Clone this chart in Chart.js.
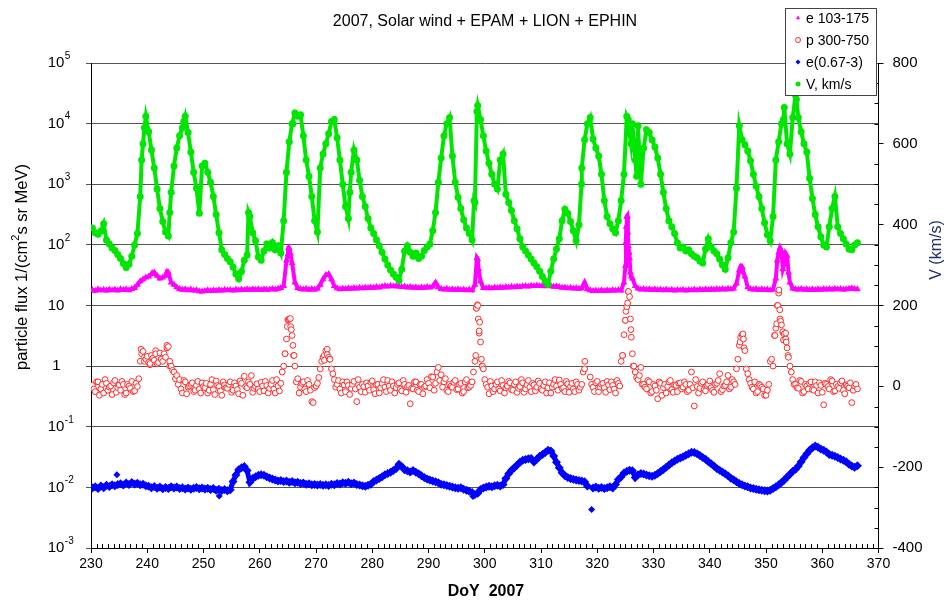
<!DOCTYPE html>
<html>
<head>
<meta charset="utf-8">
<title>2007, Solar wind + EPAM + LION + EPHIN</title>
<script src="https://cdn.jsdelivr.net/npm/chart.js@4.4.0/dist/chart.umd.min.js"></script>
<style>
  html, body { margin: 0; padding: 0; background: #fff; }
</style>
</head>
<body>
<canvas id="chart" width="951" height="606"></canvas>
<script>
// one sample every half day, first one at DoY 230.25 (rows below = 5 days each)
const doyStart = 230.25;
const doyStep = 0.5;
// second set of proton samples sits in between, from DoY 230.5
const doyStartB = 230.5;

// V, km/s (right axis)
const speed = [
  392, 380, 376, 384, 402, 362, 352, 342, 336, 326,
  316, 304, 294, 302, 322, 350, 378, 470, 600, 668,
  630, 585, 540, 488, 440, 408, 382, 372, 480, 545,
  590, 620, 640, 668, 628, 580, 530, 490, 428, 545,
  552, 530, 505, 470, 425, 380, 338, 326, 316, 308,
  295, 278, 266, 284, 312, 325, 420, 380, 360, 320,
  312, 335, 352, 342, 356, 338, 348, 330, 410, 530,
  605, 650, 676, 668, 672, 620, 560, 520, 470, 410,
  382, 540, 575, 600, 625, 655, 660, 615, 560, 500,
  445, 415, 530, 585, 560, 510, 470, 445, 415, 392,
  378, 362, 348, 332, 315, 300, 288, 278, 270, 262,
  290, 335, 348, 332, 322, 330, 316, 322, 336, 345,
  352, 385, 430, 505, 565, 620, 650, 665, 570, 505,
  468, 440, 412, 392, 378, 362, 455, 695, 660, 620,
  582, 552, 525, 500, 488, 560, 575, 475, 455, 435,
  410, 390, 365, 345, 335, 325, 315, 305, 296, 285,
  272, 260, 252, 285, 315, 340, 365, 410, 438, 428,
  408, 385, 360, 400, 540, 610, 650, 665, 612, 590,
  570, 525, 460, 420, 402, 390, 380, 410, 460, 525,
  668, 625, 650, 560, 645, 500, 590, 635, 628, 610,
  592, 565, 525, 480, 440, 410, 395, 378, 355, 342,
  345, 335, 338, 328, 322, 318, 310, 305, 340, 365,
  345, 335, 328, 315, 300, 290, 318, 355, 382, 490,
  645, 610, 598, 582, 558, 525, 495, 470, 440, 405,
  375, 360, 420, 560, 605, 650, 690, 600, 575, 665,
  720, 665, 630, 600, 580, 515, 465, 425, 395, 370,
  350, 345, 395, 440, 470, 395, 378, 365, 352, 340,
  338, 350, 355
];
const speedExtraDoy = [239.0, 239.5, 244.0, 246.5, 258.0, 265.9, 276.0, 298.1, 298.6, 317.2, 325.5, 326.0, 327.0, 353.1, 355.4];
const speedExtraVal = [560, 640, 430, 655, 430, 650, 480, 460, 680, 500, 660, 600, 520, 660, 710];

// e 103-175
const e103 = [
  18, 17.5, 18.5, 17.8, 18.2, 17.6, 18.4, 17.9, 18.3, 17.7,
  18.5, 18, 18.6, 17.9, 18.8, 19.5, 22, 25, 27, 29,
  30, 33, 35, 31, 28, 29, 31, 35, 24, 22,
  20, 18.8, 18.2, 18.6, 17.9, 18.3, 17.6, 18, 17.2, 17,
  17.4, 17.8, 17.3, 17.9, 17.5, 18, 17.6, 18.2, 17.8, 18.1,
  17.7, 18.3, 17.9, 18.4, 18, 18.5, 18.1, 18.6, 18.2, 18.5,
  18, 18.6, 18.2, 18.4, 18.8, 18.3, 18.9, 19.5, 21, 55,
  88, 50, 24, 19.5, 18.8, 18.4, 18.9, 18.2, 18.7, 18.3,
  19, 22, 27, 32, 33, 27, 21, 19.2, 18.6, 19,
  18.7, 19.2, 18.9, 19.5, 19.1, 19.6, 19.3, 19.8, 19.4, 19.9,
  19.6, 20.2, 19.8, 20.5, 21, 20.6, 21.2, 20.8, 21, 20.5,
  20.2, 20.6, 19.8, 20.1, 19.7, 20, 19.5, 19.9, 19.6, 20.2,
  19.8, 20.5, 24, 20, 18.8, 18.4, 18.9, 18.2, 18.6, 18.1,
  18.5, 18, 18.4, 17.9, 18.3, 17.8, 22, 58, 25, 19.5,
  19.2, 19.6, 19.3, 19.8, 19.5, 20, 19.7, 20.2, 19.8, 20.3,
  20, 20.5, 20.2, 20.8, 21, 20.6, 21.2, 20.9, 21.4, 21,
  21.3, 20.8, 21.5, 21, 20.4, 20.8, 20.1, 19.6, 19.9, 19.3,
  19.6, 19.1, 19.4, 18.9, 19.3, 24, 18.6, 17.8, 17.4, 17.7,
  17.3, 17.8, 17.4, 17.9, 17.5, 18, 17.6, 18.1, 17.7, 24,
  290, 60, 28, 21, 19, 18.4, 18.8, 18.2, 18.6, 18.1,
  18.5, 18, 18.4, 17.9, 18.3, 17.8, 18.2, 17.7, 18.1, 17.8,
  18.2, 17.7, 18.1, 17.8, 18.3, 17.9, 18.4, 18, 18.5, 18.1,
  18.6, 18.2, 18.7, 18.3, 18.8, 18.4, 18.9, 18.5, 19, 23,
  38, 43, 30, 20, 18.8, 18.3, 18.7, 18.1, 18.5, 18,
  18.4, 17.9, 18.3, 28, 75, 80, 48, 66, 24, 19,
  18.6, 18.4, 18.8, 18.2, 18.6, 18, 18.5, 18.1, 18.6, 18.2,
  18.7, 18.3, 18.8, 18.4, 18.9, 18.5, 18.7, 18.3, 18.6, 18.9,
  19.2, 18.8, 18.5
];
const e103ExtraDoy = [240.9, 243.5, 265.0, 265.1, 265.45, 298.6, 298.9, 325.0,
                      325.1, 325.15, 325.35, 325.45, 325.55, 325.65, 325.9, 326.05,
                      345.5, 345.9, 352.0, 352.5, 353.0, 353.5, 354.0];
const e103ExtraVal = [34, 36, 70, 89, 72, 61, 40, 45,
                      110, 200, 300, 160, 95, 75, 35, 30,
                      44, 36, 55, 90, 40, 72, 35];

// p 300-750
const p300 = [
  .48, .38, .55, .42, .36, .52, .45, .34, .58, .44,
  .40, .50, .36, .47, .56, .39, .46, 1.2, 1.75, 1.3,
  1.15, 1.5, 1.25, 1.1, 1.65, 1.2, 1.4, 2.1, 1.0, .8,
  .7, .6, .36, .55, .45, .5, .38, .48, .42, .53,
  .44, .36, .5, .41, .57, .46, .33, .49, .43, .55,
  .4, .47, .35, .52, .68, .44, .5, .37, .46, .42,
  .54, .39, .48, .43, .58, .36, .47, .52, 1.0, 2.8,
  6.0, 3.2, 1.0, .62, .45, .55, .38, .5, .26, .44,
  .52, .9, 1.4, 1.8, 1.4, .9, .6, .5, .42, .55,
  .38, .48, .43, .56, .26, .45, .5, .37, .47, .54,
  .41, .49, .36, .52, .45, .58, .4, .47, .44, .53,
  .39, .5, .46, .24, .42, .55, .38, .5, .45, .6,
  .44, .66, .52, .95, .72, .55, .4, .5, .45, .58,
  .42, .52, .38, .6, .45, .55, 1.2, 10, 2.5, .9,
  .5, .35, .47, .42, .55, .39, .48, .44, .56, .41,
  .5, .37, .46, .53, .42, .58, .38, .49, .45, .52,
  .4, .55, .44, .36, .5, .47, .59, .43, .38, .51,
  .46, .42, .55, .4, .5, .9, null, .66, .45, .53,
  .38, .5, .44, .56, .41, .48, .36, .52, 1.2, 3.3,
  9.5, 14, 1.6, .8, .6, .95, .5, .42, .55, .38,
  .47, .29, .52, .44, .36, .55, .41, .49, .38, .53,
  .45, .5, .4, .8, .22, .46, .43, .55, .39, .5,
  .44, .37, .52, .75, .41, .48, .7, .45, .55, .9,
  2.2, 3.3, 1.8, .75, .52, .42, .36, .5, .45, .33,
  .4, 1.2, 1.0, 4.2, 16, 4.8, 3.4, 2.0, 1.0, .6,
  .5, .43, .56, .38, .47, .52, .41, .55, .36, .48,
  .23, .5, .42, .57, .39, .46, .53, .4, .49, .44,
  .25, .47, .42
];
const p300b = [
  .42, .55, .33, .5, .6, .4, .47, .53, .37, .49,
  .56, .34, .5, .43, .38, .52, .62, 1.6, 1.2, 1.45,
  1.05, 1.35, 1.8, 1.15, 1.3, 1.6, 2.0, 1.0, .85, .62,
  .5, .42, .58, .35, .47, .53, .4, .56, .36, .46,
  .52, .4, .6, .34, .48, .39, .55, .44, .5, .37,
  .53, .41, .57, .33, .46, .55, .7, .43, .51, .38,
  .47, .56, .36, .5, .42, .6, .39, .8, 1.6, 5.8,
  4.5, 1.5, .55, .36, .52, .42, .58, .4, .25, .47,
  .65, 1.2, 1.5, 1.9, 1.3, .75, .45, .58, .36, .49,
  .55, .34, .5, .42, .6, .38, .46, .53, .4, .57,
  .35, .5, .44, .6, .38, .47, .55, .36, .5, .42,
  .58, .37, .48, .43, .55, .4, .5, .35, .47, .52,
  .67, .4, .8, .58, .45, .62, .38, .47, .54, .41,
  .5, .36, .55, .44, .48, .8, 9, 3.5, 1.0, .6,
  .45, .56, .38, .5, .42, .58, .36, .47, .53, .4,
  .55, .43, .6, .37, .49, .45, .52, .39, .57, .42,
  .48, .36, .53, .45, .6, .4, .5, .44, .56, .37,
  .52, .38, .5, .45, .8, null, null, .5, .38, .56,
  .45, .52, .37, .49, .55, .42, .58, .47, 1.5, 5.7,
  17, 4, 1.0, .65, .7, .5, .45, .58, .36, .5,
  .4, .55, .33, .5, .46, .58, .37, .48, .52, .42,
  .55, .38, .5, .44, .6, .36, .52, .41, .48, .57,
  .4, .5, .58, .38, .47, .55, .42, .6, .5, 1.3,
  3.0, 2.8, .9, .6, .45, .55, .38, .48, .42, .33,
  .5, 1.3, 3.2, 10, 6, 3.6, 2.8, 1.4, .8, .5,
  .44, .58, .36, .5, .42, .55, .4, .48, .53, .37,
  .52, .46, .6, .38, .5, .43, .57, .35, .47, .53,
  .4, .5
];
const p300ExtraDoy = [238.9, 239.5, 240.5, 241.5, 242.5, 243.5, 244.0, 264.5,
                      264.9, 265.1, 265.45, 265.6, 265.9, 266.1, 271.5, 272.0,
                      272.4, 298.4, 298.55, 298.7, 298.85, 299.0, 299.1, 299.4,
                      299.6, 317.8, 324.5, 325.0, 325.1, 325.4, 325.55, 325.9,
                      326.05, 326.4, 345.4, 345.9, 346.1, 351.6, 351.9, 352.1,
                      352.3, 352.45, 352.6, 353.0, 353.1, 353.5, 353.6, 353.9];
const p300ExtraVal = [1.9, 1.4, 1.1, 1.6, 1.3, 2.2, 1.2, 1.6,
                      4.5, 5.8, 6.1, 4.0, 2.2, 1.5, 1.25, 1.55,
                      1.3, 1.5, 9, 10.3, 6, 3.8, 5.3, 1.3,
                      1.0, 1.2, 1.5, 5.7, 8, 11, 17, 6,
                      3, 1.0, 2.5, 3.4, 2.0, 3.2, 5, 10,
                      18, 8.5, 5.5, 3.7, 2.7, 3.5, 2.5, 1.5];

// e(0.67-3)
const e067 = [
  .0098, .0102, .0096, .0105, .0099, .0108, .0103, .0110, .0106, .0112,
  .0115, .0109, .0118, .0112, .0120, .0114, .0117, .0110, .0113, .0106,
  .0104, .0099, .0103, .0097, .0101, .0095, .0100, .0096, .0102, .0098,
  .0101, .0096, .0099, .0094, .0098, .0093, .0097, .0100, .0095, .0098,
  .0094, .0097, .0092, .0096, .0090, .0093, .0089, .0092, .0088, .0091,
  .0125, .0160, .0195, .0210, .0220, .0190, .0122, .0140, .0150, .0158,
  .0162, .0158, .0150, .0143, .0138, .0132, .0128, .0130, .0125, .0127,
  .0122, .0125, .0119, .0121, .0116, .0118, .0113, .0115, .0110, .0112,
  .0109, .0112, .0108, .0111, .0107, .0113, .0110, .0116, .0114, .0119,
  .0117, .0121, .0115, .0118, .0112, .0109, .0106, .0104, .0108, .0113,
  .0125, .0132, .0140, .0150, .0162, .0170, .0178, .0190, .0205, .0240,
  .0220, .0195, .0188, .0180, .0190, .0178, .0168, .0155, .0145, .0138,
  .0132, .0127, .0124, .0119, .0113, .0110, .0107, .0104, .0101, .0099,
  .0097, .0099, .0093, .0090, .0086, .0082, .0076, .0080, .0092, .0098,
  .0101, .0104, .0102, .0106, .0108, .0105, .0112, .0140, .0168, .0192,
  .0210, .0235, .0260, .0280, .0288, .0298, .0300, .0262, .0290, .0325,
  .0350, .0375, .0410, .0400, .0330, .0260, .0210, .0175, .0155, .0145,
  .0140, .0136, .0132, .0130, .0127, .0124, .0105, null, .0098, .0101,
  .0097, .0100, .0096, .0099, .0102, .0098, .0112, .0135, .0150, .0172,
  .0185, .0192, .0188, .0145, .0162, .0170, .0166, .0160, .0156, .0152,
  .0158, .0170, .0182, .0198, .0215, .0235, .0255, .0272, .0290, .0305,
  .0320, .0340, .0360, .0380, .0375, .0360, .0335, .0310, .0290, .0265,
  .0245, .0225, .0205, .0192, .0180, .0168, .0155, .0142, .0133, .0124,
  .0116, .0110, .0105, .0102, .0098, .0096, .0093, .0091, .0090, .0088,
  .0087, .0090, .0096, .0102, .0110, .0120, .0132, .0148, .0165, .0185,
  .0200, .0225, .0265, .0310, .0360, .0410, .0450, .0480, .0460, .0430,
  .0410, .0385, .0350, .0340, .0325, .0310, .0295, .0280, .0265, .0240,
  .0225, .0215, .0228
];
// isolated e(0.67-3) points off the band
const e067OutDoy = [234.6, 252.8, 297.9, 319.0];
const e067OutVal = [.0162, .0072, .0071, .0043];

// axis ticks
const fluxTicks = [1e-3, 1e-2, 1e-1, 1, 10, 1e2, 1e3, 1e4, 1e5];
const fluxTickBase = ["10", "10", "10", "1", "10", "10", "10", "10", "10"];
const fluxTickExp = ["-3", "-2", "-1", "", "", "2", "3", "4", "5"];

const titleText = "2007, Solar wind + EPAM + LION + EPHIN";
const xTitle = "DoY  2007";
const fluxTitle = ["particle flux 1/(cm", "2", "s sr MeV)"];
const speedTitle = "V (km/s)";

const FONT = "'Liberation Sans', Arial, sans-serif";
Chart.defaults.font.family = FONT;
Chart.defaults.color = "#000";

function grid(vals, start) {
  return vals.map((v, i) => ({ x: start + i * doyStep, y: v }));
}
function withExtra(pts, extraDoy, extraVal) {
  extraDoy.forEach((d, i) => pts.push({ x: d, y: extraVal[i] }));
  return pts.sort((a, b) => a.x - b.x);
}

// titles, minor ticks, flux tick labels and the boxed legend
const decor = {
  id: "decor",
  afterDraw(chart) {
    const ctx = chart.ctx;
    const xs = chart.scales.x, ys = chart.scales.y, vs = chart.scales.yV, area = chart.chartArea;
    ctx.save();

    ctx.strokeStyle = "#000";
    ctx.lineWidth = 1;
    ctx.beginPath();
    for (let d = 231; d < 370; d++) {
      if (d % 10 === 0) continue;
      const px = Math.round(xs.getPixelForValue(d)) + 0.5;
      ctx.moveTo(px, area.bottom);
      ctx.lineTo(px, area.bottom - 4);
    }
    for (let v = -350; v < 800; v += 50) {
      if (v % 200 === 0) continue;
      const py = Math.round(vs.getPixelForValue(v)) + 0.5;
      ctx.moveTo(area.right - 4, py);
      ctx.lineTo(area.right, py);
    }
    ctx.stroke();

    // log tick labels with raised exponents
    ctx.fillStyle = "#000";
    ctx.textBaseline = "middle";
    fluxTicks.forEach((v, i) => {
      const py = ys.getPixelForValue(v);
      ctx.font = "15px " + FONT;
      ctx.textAlign = "center";
      const base = fluxTickBase[i];
      const cx = base === "1" ? 56.5 : 56;
      ctx.fillText(base, cx, py);
      if (fluxTickExp[i]) {
        const bw = ctx.measureText(base).width;
        ctx.font = "10px " + FONT;
        ctx.textAlign = "left";
        ctx.fillText(fluxTickExp[i], cx + bw / 2 + 0.5, py - 7);
      }
    });

    ctx.textAlign = "center";
    ctx.font = "16px " + FONT;
    ctx.fillText(titleText, 485, 22);
    ctx.font = "bold 16px " + FONT;
    ctx.fillText(xTitle, 486, 592);

    // left title with superscript 2
    ctx.save();
    ctx.translate(22, 267);
    ctx.rotate(-Math.PI / 2);
    const big = "16.5px " + FONT, small = "11px " + FONT;
    ctx.font = big;
    const w0 = ctx.measureText(fluxTitle[0]).width;
    const w2 = ctx.measureText(fluxTitle[2]).width;
    ctx.font = small;
    const w1 = ctx.measureText(fluxTitle[1]).width;
    let tx = -(w0 + w1 + w2) / 2;
    ctx.textAlign = "left";
    ctx.font = big;
    ctx.fillText(fluxTitle[0], tx, 0);
    tx += w0;
    ctx.font = small;
    ctx.fillText(fluxTitle[1], tx, -6);
    tx += w1;
    ctx.font = big;
    ctx.fillText(fluxTitle[2], tx, 0);
    ctx.restore();

    ctx.save();
    ctx.textAlign = "center";
    ctx.font = "16px " + FONT;
    ctx.fillStyle = "#1f2f6f";
    ctx.translate(937, 250);
    ctx.rotate(-Math.PI / 2);
    ctx.fillText(speedTitle, 0, 0);
    ctx.restore();

    // legend box
    ctx.fillStyle = "#fff";
    ctx.fillRect(785.5, 8.5, 91, 87);
    ctx.strokeStyle = "#444";
    ctx.lineWidth = 1;
    ctx.strokeRect(785.5, 8.5, 91, 87);
    ctx.font = "14px " + FONT;
    ctx.textAlign = "left";
    chart.data.datasets.filter((ds) => ds.inLegend).forEach((ds, i) => {
      const y = 18 + i * 22;
      ctx.fillStyle = ds.backgroundColor;
      ctx.strokeStyle = ds.borderColor;
      ctx.lineWidth = 1;
      Chart.helpers.drawPoint(ctx, {
        pointStyle: ds.pointStyle, radius: 2.5, rotation: 0, borderWidth: ds.pointBorderWidth
      }, 798, y);
      ctx.fillStyle = "#000";
      ctx.fillText(ds.label, 806, y + 1);
    });
    ctx.restore();
  }
};

new Chart(document.getElementById("chart"), {
  type: "scatter",
  data: {
    datasets: [
      {
        label: "e 103-175", inLegend: true, yAxisID: "y",
        data: withExtra(grid(e103, doyStart), e103ExtraDoy, e103ExtraVal),
        showLine: true, borderWidth: 4, borderColor: "#ff00ff",
        pointStyle: "triangle", pointRadius: 4, backgroundColor: "#ff00ff", pointBorderWidth: 0,
        order: 3
      },
      {
        label: "p 300-750", inLegend: true, yAxisID: "y",
        data: withExtra(grid(p300, doyStart).concat(grid(p300b, doyStartB)), p300ExtraDoy, p300ExtraVal),
        pointStyle: "circle", pointRadius: 2.9, backgroundColor: "#ffffff", borderColor: "#ff2a2a",
        pointBorderWidth: 1, borderWidth: 1, order: 2
      },
      {
        label: "e(0.67-3)", inLegend: true, yAxisID: "y",
        data: grid(e067, doyStart),
        showLine: true, borderWidth: 5, borderColor: "#0000ff",
        pointStyle: "rectRot", pointRadius: 4.5, backgroundColor: "#0000ff", pointBorderWidth: 0,
        order: 1
      },
      {
        label: "V, km/s", inLegend: true, yAxisID: "yV",
        data: withExtra(grid(speed, doyStart), speedExtraDoy, speedExtraVal),
        showLine: true, borderWidth: 4, borderColor: "#00e600",
        pointStyle: "circle", pointRadius: 3.5, backgroundColor: "#00e600", pointBorderWidth: 0,
        order: 0
      },
      {
        label: "e(0.67-3)", inLegend: false, yAxisID: "y",
        data: withExtra([], e067OutDoy, e067OutVal),
        pointStyle: "rectRot", pointRadius: 3.5, backgroundColor: "#0000ff", borderColor: "#0000ff",
        pointBorderWidth: 0, order: 1
      }
    ]
  },
  options: {
    responsive: false,
    animation: false,
    events: [],
    layout: { padding: { top: 63, left: 0, right: 0, bottom: 0 } },
    plugins: { legend: { display: false }, title: { display: false }, tooltip: { enabled: false } },
    scales: {
      x: {
        type: "linear", min: 230, max: 370,
        afterFit: (s) => { s.height = 58; },
        ticks: { stepSize: 10, font: { size: 14 }, padding: 3, maxRotation: 0, autoSkip: false },
        grid: { drawOnChartArea: false, tickLength: 5, color: "#000" },
        border: { color: "#000" }
      },
      y: {
        type: "logarithmic", position: "left", min: 1e-3, max: 1e5,
        afterBuildTicks: (s) => { s.ticks = fluxTicks.map((v) => ({ value: v })); },
        afterFit: (s) => { s.width = 91; },
        ticks: { display: false },
        grid: { color: "#555", tickLength: 5 },
        border: { color: "#000" }
      },
      yV: {
        type: "linear", position: "right", min: -400, max: 800,
        afterFit: (s) => { s.width = 72.5; },
        ticks: { stepSize: 200, font: { size: 15 }, padding: 9 },
        grid: { drawOnChartArea: false, tickLength: 5, color: "#000" },
        border: { color: "#000" }
      }
    }
  },
  plugins: [decor]
});
</script>
</body>
</html>
